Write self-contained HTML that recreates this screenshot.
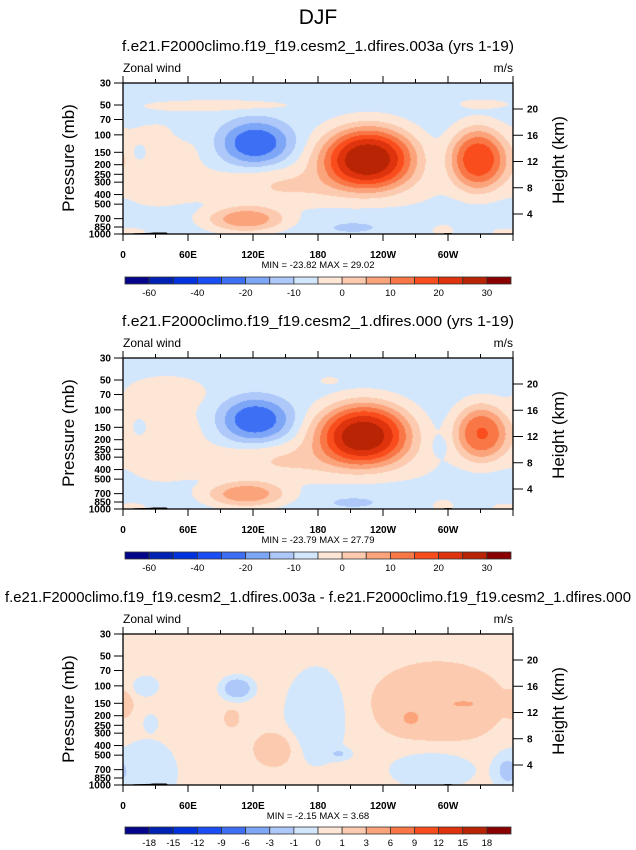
<!DOCTYPE html>
<html><head><meta charset="utf-8">
<style>
html,body{margin:0;padding:0;background:#fff;}
#wrap{position:relative;width:636px;height:850px;overflow:hidden;font-family:"Liberation Sans",Arial,sans-serif;}
canvas{position:absolute;left:123px;}
svg{position:absolute;left:0;top:0;}
</style></head>
<body>
<div id="wrap">
<canvas id="c0" width="390" height="151" style="top:83px"></canvas>
<canvas id="c1" width="390" height="151" style="top:358px"></canvas>
<canvas id="c2" width="390" height="151" style="top:634px"></canvas>
<svg id="ov" width="636" height="850"></svg>
</div>
<script>
// ---- data ----
const titles = ["f.e21.F2000climo.f19_f19.cesm2_1.dfires.003a (yrs 1-19)",
  "f.e21.F2000climo.f19_f19.cesm2_1.dfires.000 (yrs 1-19)",
  "f.e21.F2000climo.f19_f19.cesm2_1.dfires.003a - f.e21.F2000climo.f19_f19.cesm2_1.dfires.000"];
const minMax = ["MIN = -23.82  MAX = 29.02","MIN = -23.79  MAX = 27.79","MIN = -2.15  MAX = 3.68"];
const levelsAbs = [-60,-50,-40,-30,-20,-15,-10,-5,0,5,10,15,20,25,30];
const labelsAbs = ["-60","","-40","","-20","","-10","","0","","10","","20","","30"];
const levelsDiff = [-18,-15,-12,-9,-6,-3,-1,0,1,3,6,9,12,15,18];
const labelsDiff = ["-18","-15","-12","-9","-6","-3","-1","0","1","3","6","9","12","15","18"];
const colors = ['#05058c','#0022b4','#0033dd','#1a4ef5','#3d6ff5','#7ea6f7','#adc8f9','#d3e7fc','#fde6d6','#fccaae','#fba47c','#f97746','#fa4d1d','#de330c','#b82404','#8a0000'];
const pTicks = [30,50,70,100,150,200,250,300,400,500,700,850,1000];
const hTicks = [4,8,12,16,20];
const lonTicks = [0,60,120,180,240,300];
const lonLabels = ["0","60E","120E","180","120W","60W"];
// blob fields: base value plus anomalies (lon deg, pressure mb, amplitude m/s, lon width, ln-p width)
const base = [-7,-7,0.5];
const shape = [1.3,1.3,1.15];
const blobLon1 = [226,327,122,90,330,30,15,130,113,212,8,295,350,180,60,270];
const blobP1   = [170,175,120,50,48,200,150,330,700,850,950,920,960,300,85,350];
const blobAmp1 = [36,26,-17,3.5,3,5,-5,5,15,-5,4,4,4,3,-3,2];
const blobSL1  = [33,20,25,60,20,34,5,55,28,18,10,8,8,50,10,30];
const blobSP1  = [0.55,0.55,0.4,0.12,0.1,0.75,0.15,0.32,0.23,0.1,0.08,0.12,0.08,0.5,0.2,0.4];
const blobLon2 = [222,330,122,40,190,35,15,130,113,212,8,295,350,180,292,270];
const blobP2   = [175,170,125,65,50,200,150,330,700,850,950,920,960,300,230,350];
const blobAmp2 = [35,22,-17,4,3,5,-5,5,15,-5,4,4,4,3,-3,2];
const blobSL2  = [33,19,25,30,8,34,5,55,28,18,10,8,8,50,5,30];
const blobSP2  = [0.55,0.5,0.4,0.3,0.08,0.75,0.15,0.32,0.23,0.1,0.08,0.12,0.08,0.5,0.15,0.4];
const blobLon3 = [20,105,178,20,285,290,265,315,140,100,0,352,25,200];
const blobP3   = [100,105,200,750,680,150,210,150,430,210,150,700,230,480];
const blobAmp3 = [-1.3,-2.6,-1.4,-1.4,-1.4,1.5,2.6,1.8,1.6,1.5,1.2,-1.2,-1.2,-1.2];
const blobSL3  = [10,11,22,22,30,45,6,10,14,5,6,8,5,8];
const blobSP3  = [0.2,0.2,0.85,0.6,0.35,0.7,0.12,0.06,0.3,0.15,0.2,0.3,0.15,0.1];
const topoLon = [8,10,25,28,40,42,95,190,275,295,297,303,305,320];
const topoP   = [1000,985,975,965,965,1000,995,995,998,995,980,980,995,998];

const fields = [
 {b:base[0],q:shape[0],lon:blobLon1,p:blobP1,a:blobAmp1,sl:blobSL1,sp:blobSP1,lev:levelsAbs},
 {b:base[1],q:shape[1],lon:blobLon2,p:blobP2,a:blobAmp2,sl:blobSL2,sp:blobSP2,lev:levelsAbs},
 {b:base[2],q:shape[2],lon:blobLon3,p:blobP3,a:blobAmp3,sl:blobSL3,sp:blobSP3,lev:levelsDiff}];

// ---- geometry ----
const X0=123, W=390, H=151, tops=[83,358,634], cbTops=[277,552,827];
const xLon = l => X0 + l/360*W;
const yP = (p,t) => t + Math.log(p/30)/Math.log(1000/30)*H;

function hexToRgb(h){return [parseInt(h.slice(1,3),16),parseInt(h.slice(3,5),16),parseInt(h.slice(5,7),16)];}
const rgb = colors.map(hexToRgb);

fields.forEach((f,i)=>{
  const ctx=document.getElementById('c'+i).getContext('2d');
  const img=ctx.createImageData(W,H);
  for(let y=0;y<H;y++){
    const p=30*Math.exp(y/H*Math.log(1000/30));
    for(let x=0;x<W;x++){
      const lon=x/W*360;
      let v=f.b;
      for(let k=0;k<f.lon.length;k++){
        let dl=lon-f.lon[k]; if(dl>180)dl-=360; if(dl<-180)dl+=360;
        const dp=Math.log(p/f.p[k]);
        const r2=(dl/f.sl[k])**2+(dp/f.sp[k])**2;
        v+=f.a[k]*Math.exp(-0.5*Math.pow(r2,f.q));
      }
      let c=0; while(c<f.lev.length && v>=f.lev[c]) c++;
      const o=(y*W+x)*4, col=rgb[c];
      img.data[o]=col[0];img.data[o+1]=col[1];img.data[o+2]=col[2];img.data[o+3]=255;
    }
  }
  ctx.putImageData(img,0,0);
});

// ---- overlay ----
const svg=document.getElementById('ov');
const NS='http://www.w3.org/2000/svg';
function mk(tag,attrs,parent){const e=document.createElementNS(NS,tag);for(const k in attrs)e.setAttribute(k,attrs[k]);(parent||svg).appendChild(e);return e;}
function txt(s,x,y,size,anchor,extra){const e=mk('text',Object.assign({x:x,y:y,'font-size':size,'text-anchor':anchor||'middle','font-family':'"Liberation Sans",Arial,sans-serif',fill:'#000'},extra||{}));e.textContent=s;return e;}

const mainTitle=txt("DJF",318,24,21);



const hPix = h => (214-83) - (h-4)*(214-109)/16; // height km -> px offset

for(let i=0;i<3;i++){
  const t=tops[i];
  const g=mk('g',{});
  
  
  const ti=txt(titles[i],318,t-32,15,'middle',i==2?{textLength:626,lengthAdjust:'spacingAndGlyphs'}:{textLength:392,lengthAdjust:'spacingAndGlyphs'});
  
  
  g.appendChild(ti);
  const zw=txt("Zonal wind",X0,t-11,12,'start');
  
  
  g.appendChild(zw);
  const un=txt("m/s",513,t-11,12,'end');
  
  
  g.appendChild(un);
  let pts=topoLon.map((l,k)=>xLon(l)+','+yP(topoP[k],t).toFixed(1)).join(' ');
  const topo=mk('polygon',{points:pts+' '+xLon(320)+','+(t+H)+' '+xLon(8)+','+(t+H),fill:'#000'},g);
  
  
  const fr=mk('rect',{x:X0,y:t,width:W,height:H,fill:'none',stroke:'#000','stroke-width':1.3},g);
  
  
  pTicks.forEach(p=>{
    const y=yP(p,t);
    mk('line',{x1:X0-9,x2:X0,y1:y,y2:y,stroke:'#000','stroke-width':1},g);
    const l=txt(String(p),111,y+3.5,10,'end',{'font-weight':'bold'});
    
    
    g.appendChild(l);
  });
  hTicks.forEach(h=>{
    const y=t+hPix(h);
    mk('line',{x1:513,x2:523,y1:y,y2:y,stroke:'#000','stroke-width':1},g);
    const l=txt(String(h),527,y+3.5,10,'start',{'font-weight':'bold'});
    
    
    g.appendChild(l);
  });
  for(let l=0;l<=360;l+=30){
    const x=xLon(l), len=(l%60==0)?7:4;
    mk('line',{x1:x,x2:x,y1:t-len,y2:t,stroke:'#000','stroke-width':1},g);
    mk('line',{x1:x,x2:x,y1:t+H,y2:t+H+len,stroke:'#000','stroke-width':1},g);
  }
  lonTicks.forEach((l,k)=>{
    const e=txt(lonLabels[k],xLon(l),t+175,10,'middle',{'font-weight':'bold'});
    
    
    g.appendChild(e);
  });
  const yt=txt("Pressure (mb)",0,0,17,'middle',{transform:'translate(74,'+(t+75)+') rotate(-90)'});
  
  
  g.appendChild(yt);
  const rt=txt("Height (km)",0,0,17,'middle',{transform:'translate(564,'+(t+77)+') rotate(-90)'});
  
  
  g.appendChild(rt);
  const mm=txt(minMax[i],318,t+185,9.5,'middle');
  
  
  g.appendChild(mm);
  const cb=mk('g',{},g);
  
  
  const cbt=cbTops[i], bw=386/16;
  colors.forEach((c,k)=>{
    const r=mk('rect',{x:125+k*bw,y:cbt,width:bw,height:7,fill:c,stroke:'#333','stroke-width':0.8},cb);
    
    
  });
  const labs=i<2?labelsAbs:labelsDiff;
  labs.forEach((s,k)=>{
    if(!s)return;
    const e=txt(s,125+(k+1)*bw,cbt+19,9.5,'middle');
    
    
    cb.appendChild(e);
  });
}
</script>
</body></html>
